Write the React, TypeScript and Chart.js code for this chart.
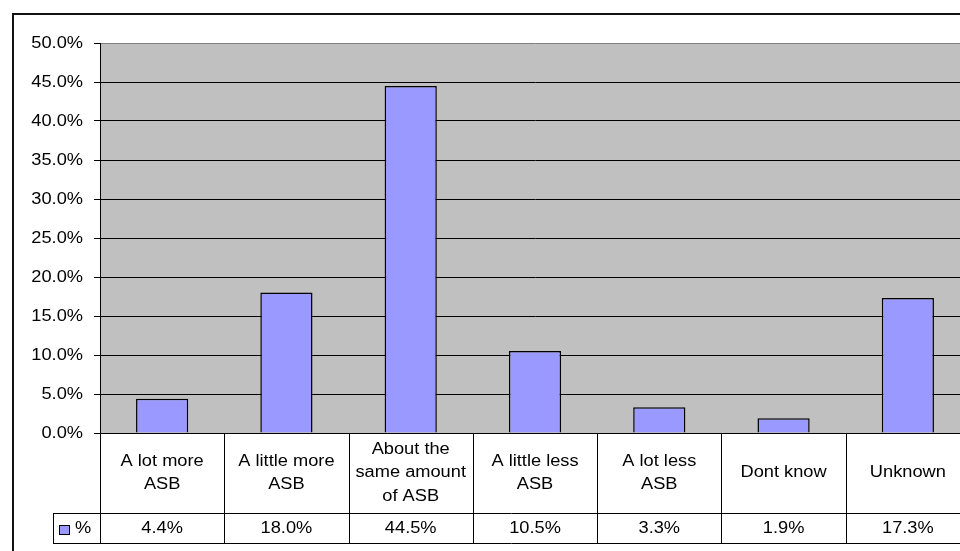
import React, { useEffect, useRef } from "react";
import { Chart, registerables } from "chart.js";

Chart.register(...registerables);

const categories: string[][] = [
  ["A lot more", "ASB"],
  ["A little more", "ASB"],
  ["About the", "same amount", "of ASB"],
  ["A little less", "ASB"],
  ["A lot less", "ASB"],
  ["Dont know"],
  ["Unknown"],
];
const seriesName = "%";
const values: number[] = [4.4, 18.0, 44.5, 10.5, 3.3, 1.9, 17.3];
const yTicks: number[] = [0, 5, 10, 15, 20, 25, 30, 35, 40, 45, 50];

const FONT = "'Liberation Sans', Arial, sans-serif";
const BAR_COLOR = "#9999FF";
const STRETCH = 1.14;

const tablePlugin = {
  id: "excelTable",
  beforeDraw(chart: any) {
    const { ctx, chartArea } = chart;
    ctx.save();
    ctx.fillStyle = "#ffffff";
    ctx.fillRect(0, 0, chart.width, chart.height);
    ctx.fillStyle = "#C0C0C0";
    ctx.fillRect(chartArea.left, chartArea.top, chartArea.right - chartArea.left, chartArea.bottom - chartArea.top);
    ctx.restore();
  },
  afterDraw(chart: any) {
    const { ctx, chartArea } = chart;
    const xs = chart.scales.x;
    const ys = chart.scales.y;
    const n = categories.length;
    const w = (chartArea.right - chartArea.left) / n;
    const top = chartArea.bottom;
    const mid = top + 80;
    const bot = mid + 30;
    const keyLeft = 53;
    ctx.save();
    ctx.strokeStyle = "#000";
    ctx.lineWidth = 1;
    const line = (x1: number, y1: number, x2: number, y2: number) => {
      ctx.beginPath();
      ctx.moveTo(x1, y1);
      ctx.lineTo(x2, y2);
      ctx.stroke();
    };
    const text = (t: string, x: number, y: number, align: CanvasTextAlign) => {
      ctx.save();
      ctx.translate(x, y);
      ctx.scale(STRETCH, 1);
      ctx.textAlign = align;
      ctx.fillText(t, 0, 0);
      ctx.restore();
    };
    // horizontal lines
    line(chartArea.left, top + 0.5, chartArea.right, top + 0.5);
    line(keyLeft, mid + 0.5, chartArea.right, mid + 0.5);
    line(keyLeft, bot + 0.5, chartArea.right, bot + 0.5);
    // vertical lines
    for (let i = 0; i <= n; i++) {
      const x = Math.round(chartArea.left + i * w) + 0.5;
      line(x, top, x, bot);
    }
    line(keyLeft + 0.5, mid, keyLeft + 0.5, bot);

    ctx.fillStyle = "#000";
    ctx.font = `16px ${FONT}`;
    ctx.textBaseline = "middle";
    // y tick labels
    yTicks.forEach((v) => {
      text(v.toFixed(1) + "%", 83, ys.getPixelForValue(v) + 1, "right");
    });
    const lh = 23.5;
    const cy = (top + mid) / 2;
    categories.forEach((lines, i) => {
      const cx = xs.getPixelForValue(i);
      const start = cy - ((lines.length - 1) * lh) / 2;
      lines.forEach((t, k) => text(t, cx, start + k * lh, "center"));
    });
    const vy = (mid + bot) / 2 + 1;
    values.forEach((v, i) => {
      text(v.toFixed(1) + "%", xs.getPixelForValue(i), vy, "center");
    });
    // legend key
    ctx.fillStyle = BAR_COLOR;
    ctx.fillRect(59, vy - 4, 10, 9);
    ctx.strokeRect(59.5, vy - 3.5, 10, 9);
    ctx.fillStyle = "#000";
    text(seriesName, 75, vy, "left");

    // outer frame
    ctx.lineWidth = 2;
    ctx.strokeStyle = "#111";
    ctx.strokeRect(13, 14, chart.width + 50, chart.height + 50);
    ctx.restore();
  },
};

export default function App() {
  const ref = useRef<HTMLCanvasElement | null>(null);
  useEffect(() => {
    if (!ref.current) return;
    Chart.defaults.font.family = FONT;
    Chart.defaults.font.size = 16;
    Chart.defaults.color = "#000";
    const chart = new Chart(ref.current, {
      type: "bar",
      data: {
        labels: categories.map((c) => c.join(" ")),
        datasets: [
          {
            label: seriesName,
            data: values,
            backgroundColor: BAR_COLOR,
            borderColor: "#000",
            borderWidth: 1.5,
            categoryPercentage: 1,
            barPercentage: 0.42,
          },
        ],
      },
      options: {
        responsive: false,
        animation: false,
        devicePixelRatio: 1,
        layout: { padding: { top: 43, left: 0, right: 30, bottom: 127 } },
        plugins: { legend: { display: false }, tooltip: { enabled: false }, title: { display: false } },
        scales: {
          x: { display: false },
          y: {
            min: 0,
            max: 50,
            afterBuildTicks: (scale: any) => {
              scale.ticks = yTicks.map((v) => ({ value: v }));
            },
            afterFit: (scale: any) => {
              scale.width = 100;
            },
            ticks: { display: false },
            grid: {
              color: (c: any) => (c.tick && c.tick.value === 50 ? "#808080" : "#000"),
              lineWidth: 1,
              tickLength: 6,
              tickColor: "#000",
            },
            border: { display: true, color: "#000", width: 1 },
          },
        },
      },
      plugins: [tablePlugin],
    });
    return () => chart.destroy();
  }, []);
  return (
    <div style={{ position: "fixed", left: 0, top: 0, width: 960, height: 551, overflow: "hidden", background: "#fff" }}>
      <canvas ref={ref} width={1000} height={560} style={{ position: "absolute", left: 0, top: 0 }} />
    </div>
  );
}
